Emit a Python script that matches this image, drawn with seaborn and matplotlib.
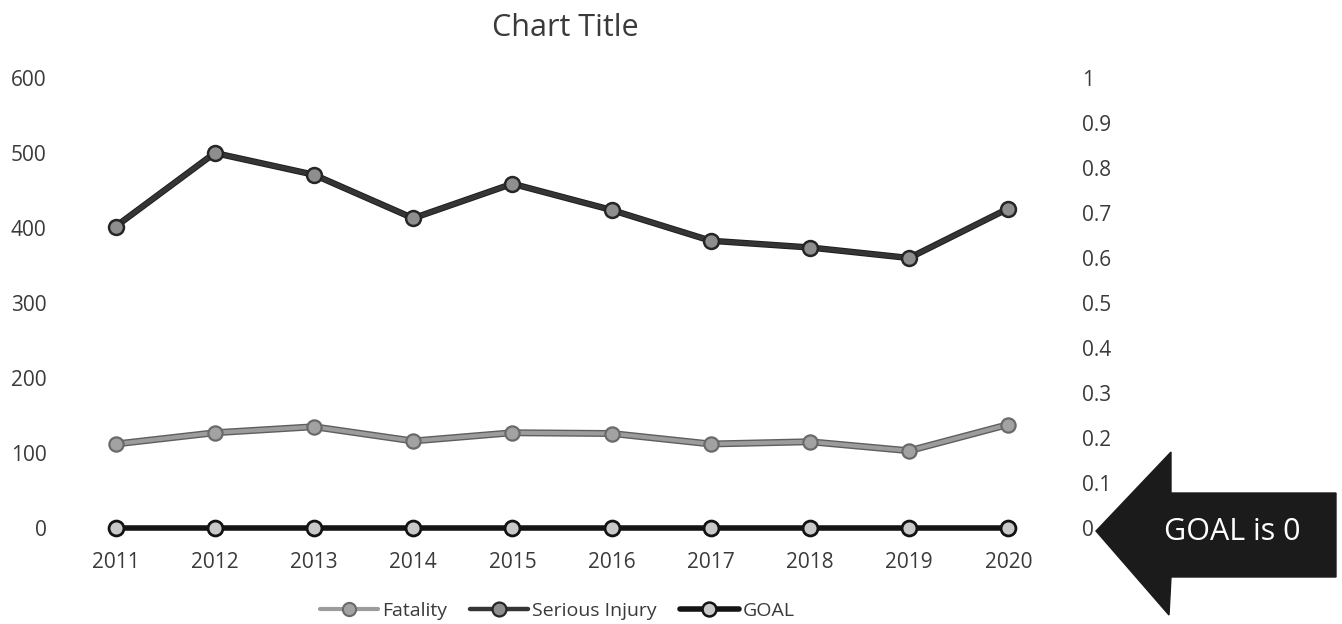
import numpy as np
import pandas as pd
import matplotlib
matplotlib.use("Agg")
import matplotlib.pyplot as plt
import matplotlib.patheffects as pe
from matplotlib.lines import Line2D
from matplotlib.patches import Polygon
import seaborn as sns

# Yearly counts
years = [2011, 2012, 2013, 2014, 2015, 2016, 2017, 2018, 2019, 2020]
fatality = [112, 127, 135, 116, 127, 126, 112, 115, 103, 138]
serious_injury = [402, 500, 471, 413, 459, 424, 383, 374, 360, 426]
goal = [0, 0, 0, 0, 0, 0, 0, 0, 0, 0]

left_ticks = [0, 100, 200, 300, 400, 500, 600]
right_ticks = [0, 0.1, 0.2, 0.3, 0.4, 0.5, 0.6, 0.7, 0.8, 0.9, 1]
series_names = ["Fatality", "Serious Injury", "GOAL"]

sns.set_style("white")
plt.rcParams["font.family"] = ["Open Sans", "DejaVu Sans"]
text_color = "#3a3a3a"

W, H = 1342, 624
fig = plt.figure(figsize=(W / 100, H / 100), dpi=100)
ax = fig.add_axes([66 / W, 96 / H, (1058 - 66) / W, 450 / H])
ax2 = ax.twinx()

df = pd.DataFrame({"Year": years, "Fatality": fatality,
                   "Serious Injury": serious_injury, "GOAL": goal})

# styling per series
fat_line = "#9c9c9c"
fat_edge = "#5e5e5e"
inj_line = "#353535"
goal_line = "#141414"

fat_fx = [pe.Stroke(linewidth=5, foreground=fat_edge), pe.Normal()]
inj_fx = [pe.Stroke(linewidth=4.6, foreground="#1e1e1e"), pe.Normal()]

sns.lineplot(data=df, x="Year", y="Fatality", ax=ax, color=fat_line, lw=3,
             path_effects=fat_fx, zorder=3)
sns.scatterplot(data=df, x="Year", y="Fatality", ax=ax, s=105,
                color="#a2a2a2", edgecolor="#6a6a6a", linewidth=1.6, zorder=4)

sns.lineplot(data=df, x="Year", y="Serious Injury", ax=ax, color=inj_line,
             lw=3.2, path_effects=inj_fx, zorder=3)
sns.scatterplot(data=df, x="Year", y="Serious Injury", ax=ax, s=115,
                color="#8e8e8e", edgecolor="#262626", linewidth=1.8, zorder=4)

sns.lineplot(data=df, x="Year", y="GOAL", ax=ax2, color=goal_line, lw=4,
             clip_on=False, zorder=3)
sns.scatterplot(data=df, x="Year", y="GOAL", ax=ax2, s=115, color="#c9c9c9",
                edgecolor="#141414", linewidth=2, clip_on=False, zorder=4)

# axes
ax.set_xlim(2010.5, 2020.5)
ax.set_ylim(0, 600)
ax.set_xticks(years)
ax.set_xticklabels([str(y) for y in years])
ax.set_yticks(left_ticks)
ax.set_yticklabels([str(v) for v in left_ticks])
ax2.set_ylim(0, 1)
ax2.set_yticks(right_ticks)
ax2.set_yticklabels([f"{v:g}" for v in right_ticks])

for a in (ax, ax2):
    a.set_xlabel("")
    a.set_ylabel("")
    for s in a.spines.values():
        s.set_visible(False)
    a.grid(False)

ax.tick_params(axis="y", length=0, pad=14, labelsize=15, labelcolor=text_color)
ax.tick_params(axis="x", length=0, pad=17, labelsize=15, labelcolor=text_color)
ax2.tick_params(axis="y", length=0, pad=17, labelsize=15, labelcolor=text_color)

fig.text(565 / W, 1 - 28 / H, "Chart Title", ha="center", va="center",
         fontsize=22, color=text_color)

# legend
handles = [
    Line2D([0], [0], color=fat_line, lw=3, marker="o", markersize=9.5,
           markerfacecolor="#a2a2a2", markeredgecolor="#6a6a6a",
           markeredgewidth=1.5),
    Line2D([0], [0], color=inj_line, lw=3.2, marker="o", markersize=10,
           markerfacecolor="#8e8e8e", markeredgecolor="#262626",
           markeredgewidth=1.6),
    Line2D([0], [0], color=goal_line, lw=4, marker="o", markersize=10,
           markerfacecolor="#c9c9c9", markeredgecolor="#141414",
           markeredgewidth=1.8),
]
leg = fig.legend(handles, series_names, loc="center",
                 bbox_to_anchor=(557 / W, 1 - 611 / H), ncol=3, frameon=False,
                 handlelength=3.0, handletextpad=0.2, columnspacing=1.2,
                 fontsize=14)
for t in leg.get_texts():
    t.set_color(text_color)

# callout arrow pointing at the zero level
pts_px = [(1096, 531), (1171, 452), (1171, 493), (1336, 493),
          (1336, 577), (1171, 577), (1169, 615)]
arrow = Polygon([(x / W, 1 - y / H) for x, y in pts_px], closed=True,
                transform=fig.transFigure, facecolor="#1b1b1b",
                edgecolor="#1b1b1b", lw=1)
fig.patches.append(arrow)
fig.text(1232 / W, 1 - 532 / H, "GOAL is 0", ha="center", va="center",
         fontsize=22, color="white")

fig.savefig("out.png", dpi=100)
